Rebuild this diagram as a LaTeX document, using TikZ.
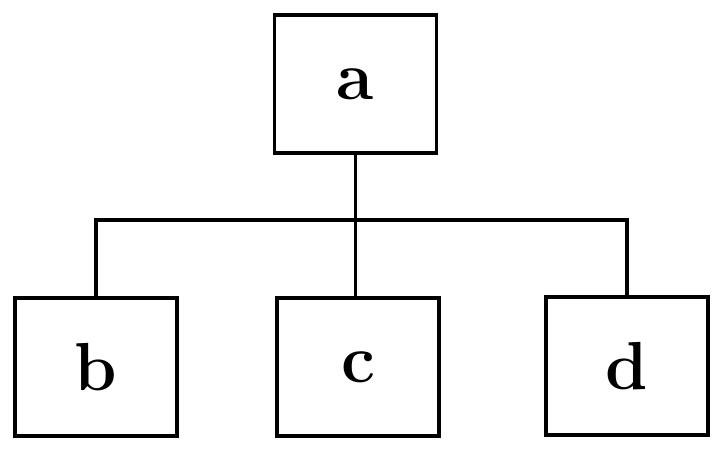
\documentclass[tikz,border=0pt]{standalone}
\usepackage{tikz}
\usetikzlibrary{positioning}

\begin{document}
\begin{tikzpicture}[
  x=0.5pt, y=-0.5pt,
  box/.style ={draw, line width=1.6pt, minimum width=81pt, minimum height=69pt, inner sep=0pt, font=\fontsize{34}{40}\selectfont\bfseries},
  link/.style={line width=1.6pt},
]
\useasboundingbox (0,0) rectangle (724,456);

% ==================== tree ====================
\node[box] (a) at (355.5,84) {a};
\node[box] (b) at (96,367) {b};
\node[box] (c) at (358,367) {c};
\node[box] (d) at (627,366) {d};

\coordinate (bus) at (0,220);

% Connectors
\draw[link] (a.south) -- (a.south |- c.north);
\draw[link] (b.north) |- (bus -| d.north) -- (d.north);

\end{tikzpicture}
\end{document}
